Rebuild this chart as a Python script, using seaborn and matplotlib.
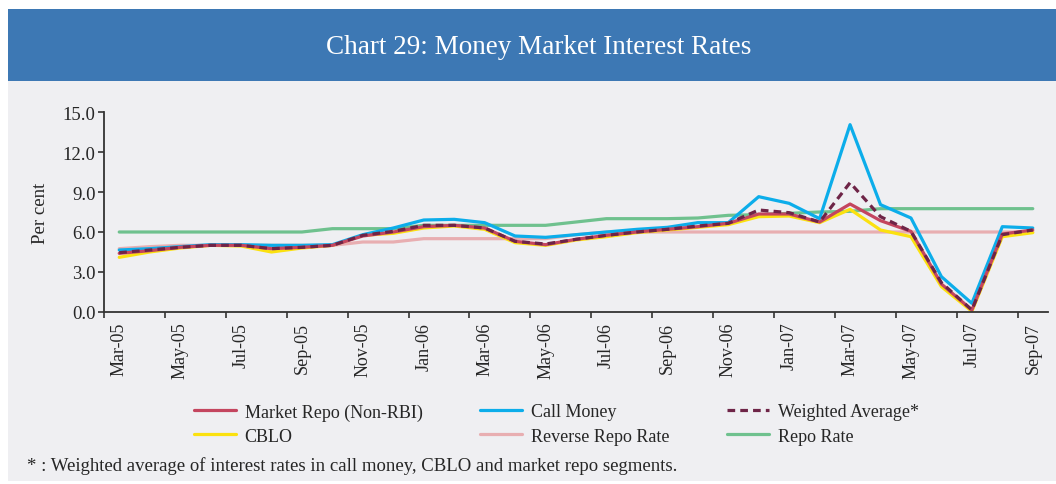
import matplotlib
matplotlib.use("Agg")
import matplotlib.pyplot as plt
from matplotlib.patches import Rectangle
import numpy as np
import pandas as pd
import seaborn as sns

# monthly money market rates, Mar-05 to Sep-07
months = ["Mar-05", "Apr-05", "May-05", "Jun-05", "Jul-05", "Aug-05", "Sep-05",
          "Oct-05", "Nov-05", "Dec-05", "Jan-06", "Feb-06", "Mar-06", "Apr-06",
          "May-06", "Jun-06", "Jul-06", "Aug-06", "Sep-06", "Oct-06", "Nov-06",
          "Dec-06", "Jan-07", "Feb-07", "Mar-07", "Apr-07", "May-07", "Jun-07",
          "Jul-07", "Aug-07", "Sep-07"]

market_repo = [4.4, 4.6, 4.85, 5.0, 5.0, 4.75, 4.85, 5.0, 5.7, 6.0, 6.4, 6.5, 6.3,
               5.3, 5.05, 5.45, 5.75, 6.0, 6.2, 6.4, 6.65, 7.35, 7.35, 6.75, 8.1,
               6.85, 6.05, 2.1, 0.15, 5.85, 6.15]
call_money = [4.65, 4.75, 4.9, 5.05, 5.05, 5.0, 5.0, 5.05, 5.8, 6.3, 6.9, 6.95, 6.7,
              5.7, 5.6, 5.8, 6.0, 6.2, 6.35, 6.7, 6.7, 8.65, 8.15, 7.0, 14.05,
              8.05, 7.05, 2.65, 0.65, 6.4, 6.3]
cblo = [4.1, 4.5, 4.8, 5.0, 4.95, 4.5, 4.8, 5.0, 5.75, 5.9, 6.3, 6.45, 6.2,
        5.2, 5.0, 5.4, 5.65, 5.95, 6.15, 6.35, 6.55, 7.15, 7.2, 6.7, 7.7,
        6.15, 5.65, 1.9, 0.05, 5.65, 5.95]
weighted_avg = [4.45, 4.65, 4.85, 5.0, 5.0, 4.75, 4.85, 5.0, 5.75, 6.05, 6.5, 6.5, 6.3,
                5.3, 5.1, 5.45, 5.75, 6.0, 6.2, 6.45, 6.65, 7.65, 7.45, 6.75, 9.7,
                7.15, 6.05, 2.2, 0.15, 5.8, 6.15]
reverse_repo = [4.75, 4.9, 5.0, 5.0, 5.0, 5.0, 5.0, 5.0, 5.25, 5.25, 5.5, 5.5, 5.5,
                5.5, 5.5, 5.8, 6.0, 6.0, 6.0, 6.0, 6.0, 6.0, 6.0, 6.0, 6.0,
                6.0, 6.0, 6.0, 6.0, 6.0, 6.0]
repo = [6.0, 6.0, 6.0, 6.0, 6.0, 6.0, 6.0, 6.25, 6.25, 6.25, 6.5, 6.5, 6.5,
        6.5, 6.5, 6.75, 7.0, 7.0, 7.0, 7.05, 7.25, 7.3, 7.4, 7.5, 7.55,
        7.75, 7.75, 7.75, 7.75, 7.75, 7.75]

BG = "#efeff2"
BAND = "#3d78b4"

sns.set_theme(style="ticks")
plt.rcParams["font.family"] = ["Liberation Serif", "DejaVu Serif"]

fig = plt.figure(figsize=(10.56, 4.85), dpi=100)
fig.patches.append(Rectangle((8 / 1056, 3 / 485), 1, 400 / 485, transform=fig.transFigure,
                             facecolor=BG, edgecolor="none", zorder=-10))
fig.patches.append(Rectangle((8 / 1056, 403 / 485), 1, 72 / 485, transform=fig.transFigure,
                             facecolor=BAND, edgecolor="none", zorder=-10))
fig.text(0.51, 0.903, "Chart 29: Money Market Interest Rates", color="white",
         fontsize=19.5, ha="center", va="center")

ax = fig.add_axes([104 / 1056, 172 / 485, 944 / 1056, 200 / 485])
ax.set_facecolor(BG)

x = np.arange(len(months))
df = pd.DataFrame({"x": x, "Market Repo (Non-RBI)": market_repo, "Call Money": call_money,
                   "CBLO": cblo, "Weighted Average*": weighted_avg,
                   "Reverse Repo Rate": reverse_repo, "Repo Rate": repo})

# drawing order: policy rates underneath, weighted average on top
series = [("Reverse Repo Rate", "#e8aeb1", "-"),
          ("Repo Rate", "#6fc18e", "-"),
          ("CBLO", "#fbe10f", "-"),
          ("Call Money", "#0cadea", "-"),
          ("Market Repo (Non-RBI)", "#c4455f", "-"),
          ("Weighted Average*", "#6e2447", (0, (2.4, 1.6)))]
handles = {}
for name, col, ls in series:
    sns.lineplot(data=df, x="x", y=name, ax=ax, color=col, linewidth=2.3,
                 linestyle=ls, label=name, legend=False)
    handles[name] = ax.lines[-1]

ax.set_xlim(-0.5, len(months) - 0.5)
ax.set_ylim(0, 15)
ax.set_yticks(np.arange(0, 15.1, 3))
ax.set_yticklabels([f"{v:.1f}" for v in np.arange(0, 15.1, 3)], fontsize=13.5)
ax.set_xticks(x[::2])
ax.set_xticklabels(months[::2], rotation=90, fontsize=13)
ax.set_xticks(x[::2] - 0.5, minor=True)
ax.tick_params(axis="x", which="major", length=0, pad=7)
ax.tick_params(axis="x", which="minor", length=4, width=1.2, color="#333333")
ax.tick_params(axis="y", length=4, width=1.2, color="#333333", pad=2)
ax.set_xlabel("")
ax.set_ylabel("Per cent", fontsize=13.5, labelpad=10)
for s in ["top", "right"]:
    ax.spines[s].set_visible(False)
for s in ["left", "bottom"]:
    ax.spines[s].set_color("#333333")
    ax.spines[s].set_linewidth(1.3)

order = ["Market Repo (Non-RBI)", "CBLO", "Call Money", "Reverse Repo Rate",
         "Weighted Average*", "Repo Rate"]
fig.legend([handles[n] for n in order], order, ncol=3, loc="center left",
           bbox_to_anchor=(185 / 1056, 60 / 485), frameon=False, fontsize=13,
           borderpad=0, handlelength=2.3, handletextpad=0.5, columnspacing=3.2,
           labelspacing=0.4)

fig.text(27 / 1056, 19 / 485,
         "* : Weighted average of interest rates in call money, CBLO and market repo segments.",
         fontsize=13.5, ha="left", va="center")

fig.savefig("out.png", dpi=100)
